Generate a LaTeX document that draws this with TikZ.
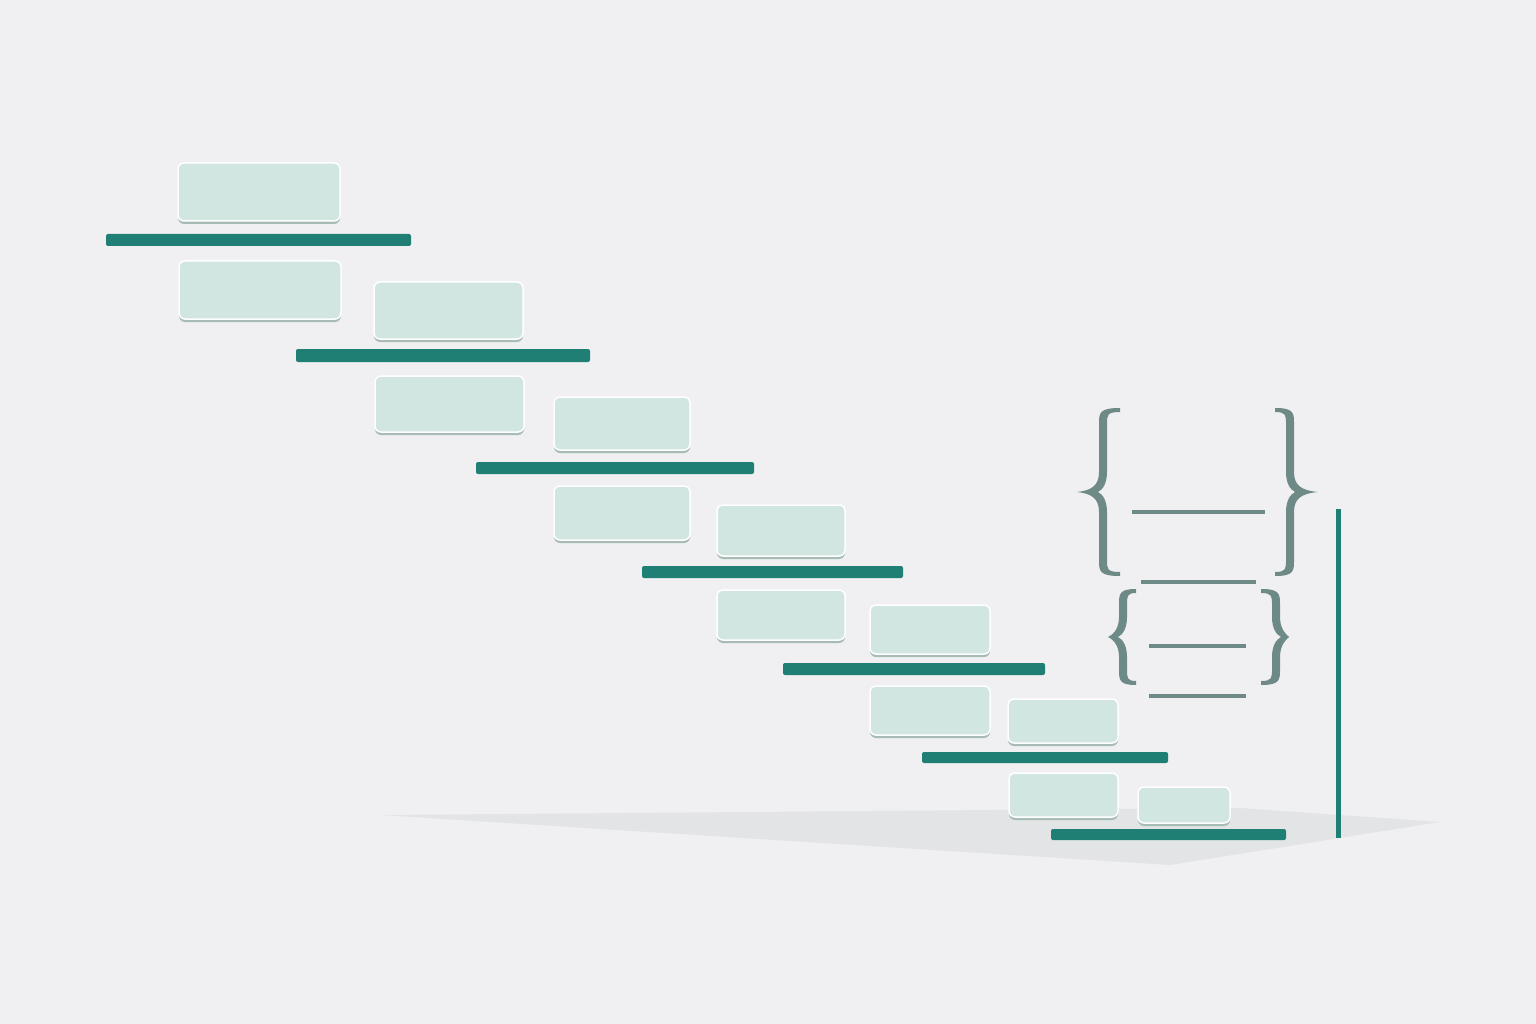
\documentclass[tikz,border=0pt]{standalone}
\usetikzlibrary{shadows}
\definecolor{bgc}{HTML}{F0F0F2}
\definecolor{floorc}{HTML}{E3E4E6}
\definecolor{boxc}{HTML}{D1E6E0}
\definecolor{boxsh}{HTML}{A8BCB6}
\definecolor{barc}{HTML}{1F7F74}
\definecolor{bracec}{HTML}{6E8A86}
\tikzset{
  card/.style={draw=white, line width=1.5pt, fill=boxc, rounded corners=6pt,
    inner sep=0pt, outer sep=0pt,
    drop shadow={shadow xshift=0pt, shadow yshift=-3pt, fill=boxsh, opacity=1}},
  sz/.style 2 args={minimum width=#1, minimum height=#2},
  bar/.style={fill=barc, rounded corners=2pt, inner sep=0pt, outer sep=0pt},
  rule/.style={draw=bracec, line width=3.5pt},
  pics/brc/.style n args={3}{code={
    \fill[bracec] (#2,-#3) .. controls (#1-4,-#3) and (#1-4,-#3+5) .. (#1-4,-#3+16)
      -- (#1-4,-20) .. controls (#1-4,-6) and (#1-12,-1.5) .. (0,0)
      .. controls (#1-12,1.5) and (#1-4,6) .. (#1-4,20)
      -- (#1-4,#3-16) .. controls (#1-4,#3-5) and (#1-4,#3) .. (#2,#3)
      -- (#2,#3-4) .. controls (#1+4,#3-4) and (#1+4,#3-7) .. (#1+4,#3-16)
      -- (#1+4,20) .. controls (#1+4,9) and (#1,2.5) .. (#1-5,0)
      .. controls (#1,-2.5) and (#1+4,-9) .. (#1+4,-20)
      -- (#1+4,-#3+16) .. controls (#1+4,-#3+7) and (#1+4,-#3+4) .. (#2,-#3+4) -- cycle;
  }}
}
\begin{document}
\begin{tikzpicture}[x=1pt,y=-1pt]
\useasboundingbox (0,0) rectangle (1536,1024);
\fill[bgc] (0,0) rectangle (1536,1024);
% floor shadow
\fill[floorc] (380,815) -- (1240,808) -- (1440,822) -- (1170,865) -- cycle;
% cards
\node[card, sz={162pt}{58pt}] (b1) at (259,192) {};
\node[card, sz={162pt}{58pt}] (b2) at (260,290) {};
\node[card, sz={149pt}{57pt}] (b3) at (448.5,310.5) {};
\node[card, sz={149pt}{56pt}] (b4) at (449.5,404) {};
\node[card, sz={136pt}{53pt}] (b5) at (622,423.5) {};
\node[card, sz={136pt}{54pt}] (b6) at (622,513) {};
\node[card, sz={128pt}{51pt}] (b7) at (781,530.5) {};
\node[card, sz={128pt}{50pt}] (b8) at (781,615) {};
\node[card, sz={120pt}{49pt}] (b9) at (930,629.5) {};
\node[card, sz={120pt}{49pt}] (b10) at (930,710.5) {};
\node[card, sz={110pt}{44pt}] (b11) at (1063,721) {};
\node[card, sz={109pt}{44pt}] (b12) at (1063.5,795) {};
\node[card, sz={92pt}{36pt}] (b13) at (1184,805) {};
% bars
\node[bar, sz={305pt}{12pt}] (r1) at (258.5,240) {};
\node[bar, sz={294pt}{13pt}] (r2) at (443,355.5) {};
\node[bar, sz={278pt}{12pt}] (r3) at (615,468) {};
\node[bar, sz={261pt}{12pt}] (r4) at (772.5,572) {};
\node[bar, sz={262pt}{12pt}] (r5) at (914,669) {};
\node[bar, sz={246pt}{11pt}] (r6) at (1045,757.5) {};
\node[bar, sz={235pt}{11pt}] (r7) at (1168.5,834.5) {};
% vertical line
\node[fill=barc, inner sep=0pt, sz={5pt}{329pt}] (vl) at (1338,673.5) {};
% braces
\pic at (1077,492) {brc={26}{43}{84}};
\pic[xscale=-1] at (1318,492) {brc={28}{43}{84}};
\pic at (1108,637) {brc={15}{28}{48}};
\pic[xscale=-1] at (1289,637) {brc={13}{28}{48}};
% rules
\draw[rule] (1132,512) -- (1265,512);
\draw[rule] (1141,582) -- (1256,582);
\draw[rule] (1149,646) -- (1246,646);
\draw[rule] (1149,696) -- (1246,696);
\end{tikzpicture}
\end{document}
